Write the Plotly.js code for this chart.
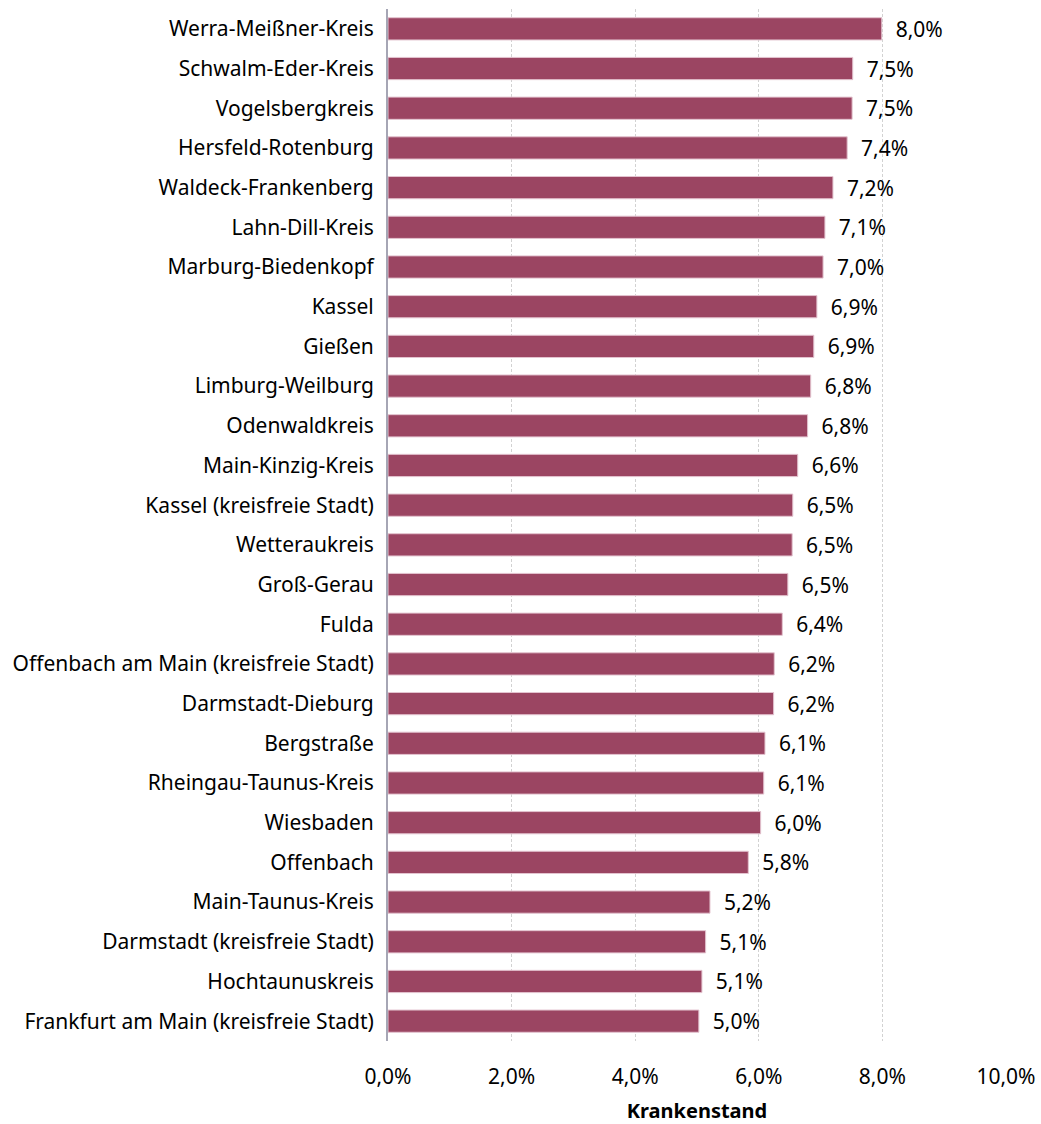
<!DOCTYPE html>
<html>
<head>
<meta charset="utf-8">
<script src="https://cdn.plot.ly/plotly-3.0.1.min.js"></script>
<style>html,body{margin:0;padding:0;background:#fff;}#chart{width:1041px;height:1124px;}</style>
</head>
<body>
<div id="chart"></div>
<script>
const regions = [
  "Werra-Meißner-Kreis","Schwalm-Eder-Kreis","Vogelsbergkreis","Hersfeld-Rotenburg",
  "Waldeck-Frankenberg","Lahn-Dill-Kreis","Marburg-Biedenkopf","Kassel","Gießen",
  "Limburg-Weilburg","Odenwaldkreis","Main-Kinzig-Kreis","Kassel (kreisfreie Stadt)",
  "Wetteraukreis","Groß-Gerau","Fulda","Offenbach am Main (kreisfreie Stadt)",
  "Darmstadt-Dieburg","Bergstraße","Rheingau-Taunus-Kreis","Wiesbaden","Offenbach",
  "Main-Taunus-Kreis","Darmstadt (kreisfreie Stadt)","Hochtaunuskreis",
  "Frankfurt am Main (kreisfreie Stadt)"
];
const krankenstand = [
  7.99, 7.52, 7.51, 7.43, 7.20, 7.07, 7.04, 6.94, 6.89, 6.84, 6.79, 6.63, 6.55,
  6.54, 6.47, 6.38, 6.25, 6.24, 6.10, 6.08, 6.03, 5.83, 5.21, 5.14, 5.08, 5.03
];
const valueLabels = [
  "8,0%","7,5%","7,5%","7,4%","7,2%","7,1%","7,0%","6,9%","6,9%","6,8%","6,8%",
  "6,6%","6,5%","6,5%","6,5%","6,4%","6,2%","6,2%","6,1%","6,1%","6,0%","5,8%",
  "5,2%","5,1%","5,1%","5,0%"
];
const xTicks = [0, 2, 4, 6, 8, 10];
const xTickLabels = ["0,0%","2,0%","4,0%","6,0%","8,0%","10,0%"];
const axisTitle = "Krankenstand";

const FONT = "Noto Sans, Open Sans, sans-serif";
const FS = 21;

const trace = {
  type: "bar",
  orientation: "h",
  y: regions,
  x: krankenstand,
  text: valueLabels.map(t => "\u00a0\u00a0" + t),
  textposition: "outside",
  constraintext: "none",
  cliponaxis: false,
  textfont: {family: FONT, size: FS, color: "#000"},
  marker: {color: "#9b4562", line: {color: "#e3c3cf", width: 1}},
  hoverinfo: "x+y"
};

const layout = {
  width: 1041, height: 1124,
  margin: {l: 388, r: 35, t: 9, b: 83},
  paper_bgcolor: "#fff", plot_bgcolor: "#fff",
  bargap: 0.44,
  showlegend: false,
  font: {family: FONT, size: FS, color: "#000"},
  xaxis: {
    range: [0, 10],
    tickvals: xTicks, ticktext: xTickLabels,
    showgrid: true, gridcolor: "#d2d2d2", griddash: "3px,2px", gridwidth: 1,
    zeroline: false, showline: false,
    ticks: "", ticklen: 0,
    ticklabelstandoff: 21,
    tickfont: {family: FONT, size: FS, color: "#000"},
    title: {text: "<b>" + axisTitle + "</b>", font: {family: FONT, size: FS - 1, color: "#000"}, standoff: 14},
    fixedrange: true
  },
  yaxis: {
    autorange: "reversed",
    showline: true, linecolor: "#a6a6b5", linewidth: 2,
    showgrid: false, zeroline: false,
    ticks: "", ticklen: 0,
    ticklabelstandoff: 8,
    tickfont: {family: FONT, size: FS, color: "#000"},
    automargin: false,
    fixedrange: true
  }
};

Plotly.newPlot("chart", [trace], layout, {displayModeBar: false, staticPlot: true});
</script>
</body>
</html>
